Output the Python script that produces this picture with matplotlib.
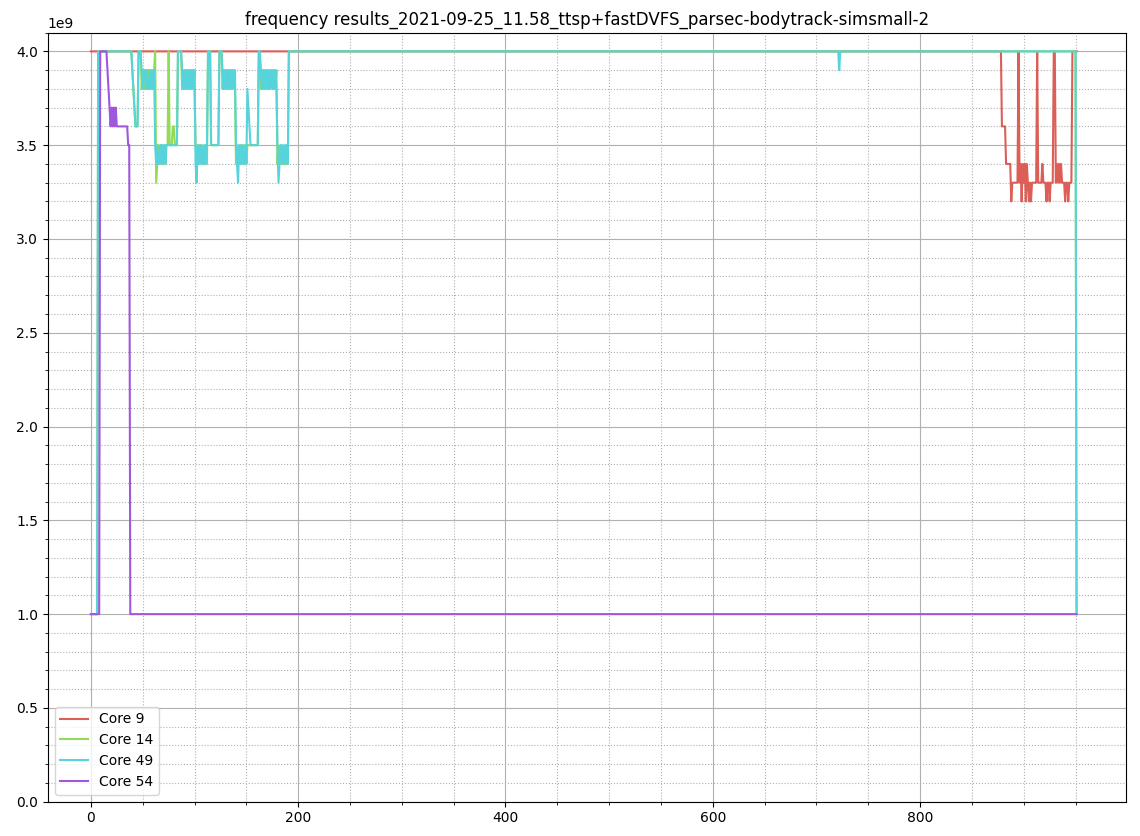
import numpy as np
import matplotlib
matplotlib.use("Agg")
import matplotlib.pyplot as plt
import seaborn as sns
from matplotlib.ticker import AutoMinorLocator

# ---- data (GHz values, run-length encoded as (value, count)) ----
core9_segments = [(4.0, 879),
    (3.6, 4), (3.4, 5), (3.2, 1), (3.3, 5), (3.3, 1), (4.0, 1),
    (3.3, 1), (3.4, 1), (3.2, 1), (3.4, 1), (3.3, 1), (3.4, 1), (3.2, 1), (3.4, 1),
    (3.3, 1), (3.2, 1), (3.3, 1), (3.2, 1), (3.3, 5),
    (4.0, 1),
    (3.3, 4), (3.4, 1),
    (3.3, 3), (3.2, 1), (3.3, 2), (3.2, 1), (3.3, 3),
    (4.0, 2),
    (3.3, 1), (3.4, 1), (3.3, 1), (3.4, 1), (3.3, 1), (3.4, 1), (3.3, 1),
    (3.3, 2), (3.2, 1), (3.3, 2), (3.2, 1), (3.3, 3),
    (4.0, 5)]

core14_segments = [(1.0, 7), (4.0, 33), (3.9, 1), (3.8, 1), (3.7, 1), (3.6, 3), (4.0, 3),
    (3.8, 1), (3.9, 1), (3.8, 2), (3.9, 1), (3.8, 1), (3.9, 2), (3.8, 1), (3.9, 1), (3.8, 1), (3.9, 2),
    (4.0, 1), (3.3, 1),
    (3.4, 1), (3.5, 1), (3.4, 1), (3.5, 2), (3.4, 1), (3.5, 1), (3.4, 1), (3.5, 1),
    (3.5, 2), (4.0, 1), (3.5, 3), (3.6, 2), (3.5, 3),
    (4.0, 4),
    (3.8, 1), (3.9, 1), (3.8, 1), (3.9, 2), (3.8, 1), (3.9, 1), (3.8, 2), (3.9, 1), (3.8, 1), (3.9, 1), (3.8, 1),
    (3.5, 1), (3.4, 2), (3.5, 1), (3.4, 1), (3.5, 1), (3.4, 2), (3.5, 1), (3.4, 1), (3.5, 1), (3.4, 1),
    (4.0, 3), (3.5, 8), (4.0, 3),
    (3.8, 1), (3.9, 1), (3.8, 1), (3.9, 1), (3.8, 2), (3.9, 1), (3.8, 1), (3.9, 2), (3.8, 1), (3.9, 1), (3.8, 1),
    (3.4, 1), (3.5, 1), (3.4, 2), (3.5, 1), (3.4, 1), (3.5, 1), (3.4, 2), (3.5, 1), (3.4, 1),
    (3.5, 4), (3.5, 7), (4.0, 2),
    (3.8, 1), (3.9, 1), (3.8, 1), (3.9, 1), (3.8, 2), (3.9, 1), (3.8, 1), (3.9, 1), (3.8, 1), (3.9, 2), (3.8, 1), (3.9, 1), (3.8, 1), (3.9, 1),
    (3.4, 1), (3.5, 1), (3.4, 2), (3.5, 1), (3.4, 3), (3.5, 1), (3.4, 2),
    (4.0, 760), (1.0, 1)]

core49_segments = [(1.0, 7), (4.0, 33), (3.9, 1), (3.8, 1), (3.7, 1), (3.6, 3), (4.0, 3),
    (3.9, 1), (3.8, 1), (3.9, 2), (3.8, 1), (3.9, 1), (3.8, 2), (3.9, 1), (3.8, 1), (3.9, 1), (3.8, 1), (3.9, 1),
    (3.5, 1), (3.4, 1), (3.5, 1), (3.4, 2), (3.5, 1), (3.4, 1), (3.5, 1), (3.4, 1), (3.5, 1), (3.4, 1),
    (3.5, 11), (4.0, 4),
    (3.9, 1), (3.8, 1), (3.9, 1), (3.8, 2), (3.9, 1), (3.8, 1), (3.9, 2), (3.8, 1), (3.9, 1), (3.8, 1), (3.9, 1),
    (3.4, 1), (3.3, 1), (3.5, 1), (3.4, 1), (3.5, 1), (3.4, 1), (3.5, 1), (3.4, 2), (3.5, 1), (3.4, 1), (3.5, 1),
    (4.0, 3), (3.5, 8), (4.0, 3),
    (3.9, 1), (3.8, 1), (3.9, 1), (3.8, 1), (3.9, 2), (3.8, 1), (3.9, 1), (3.8, 2), (3.9, 1), (3.8, 1), (3.9, 1),
    (3.5, 1), (3.4, 1), (3.3, 1), (3.5, 1), (3.4, 1), (3.5, 1), (3.4, 1), (3.5, 1), (3.4, 1), (3.5, 1), (3.4, 1),
    (3.8, 1), (3.7, 1), (3.6, 1), (3.5, 1), (3.5, 7), (4.0, 2),
    (3.9, 1), (3.8, 1), (3.9, 1), (3.8, 1), (3.9, 2), (3.8, 1), (3.9, 1), (3.8, 2), (3.9, 1), (3.8, 1), (3.9, 1), (3.8, 1), (3.9, 1), (3.8, 1),
    (3.5, 1), (3.3, 1), (3.4, 1), (3.5, 1), (3.4, 1), (3.5, 1), (3.4, 1), (3.5, 1), (3.4, 1), (3.5, 1), (3.4, 1),
    (4.0, 531), (3.9, 1), (4.0, 228), (1.0, 1)]

core54_segments = [(1.0, 9), (4.0, 7), (3.9, 1), (3.8, 1),
    (3.7, 1), (3.6, 1), (3.7, 1), (3.6, 1), (3.7, 1), (3.6, 1), (3.7, 1), (3.6, 1),
    (3.6, 10), (3.5, 2), (1.0, 914)]

labels = ["Core 9", "Core 14", "Core 49", "Core 54"]
title = "frequency results_2021-09-25_11.58_ttsp+fastDVFS_parsec-bodytrack-simsmall-2"


def expand(segs):
    vals = []
    for v, n in segs:
        vals.extend([v] * n)
    return np.array(vals) * 1e9


series = [expand(s) for s in (core9_segments, core14_segments, core49_segments, core54_segments)]
colors = sns.color_palette("hls", 4)

fig = plt.figure(figsize=(11.4, 8.36), dpi=100)
ax = fig.add_axes([0.042, 0.041, 0.946, 0.92])
for vals, lab, col in zip(series, labels, colors):
    ax.plot(np.arange(len(vals)), vals, color=col, label=lab, linewidth=1.5)

ax.set_xlim(-41.5, 999)
ax.set_ylim(0, 4.1e9)
ax.xaxis.set_minor_locator(AutoMinorLocator(4))
ax.yaxis.set_minor_locator(AutoMinorLocator(5))
ax.grid(which="major", linestyle="-", color="#b0b0b0", linewidth=0.8)
ax.grid(which="minor", linestyle=":", color="#b0b0b0", linewidth=0.8)
ax.set_title(title)
ax.legend(loc="lower left")
fig.savefig("out.png", dpi=100)
